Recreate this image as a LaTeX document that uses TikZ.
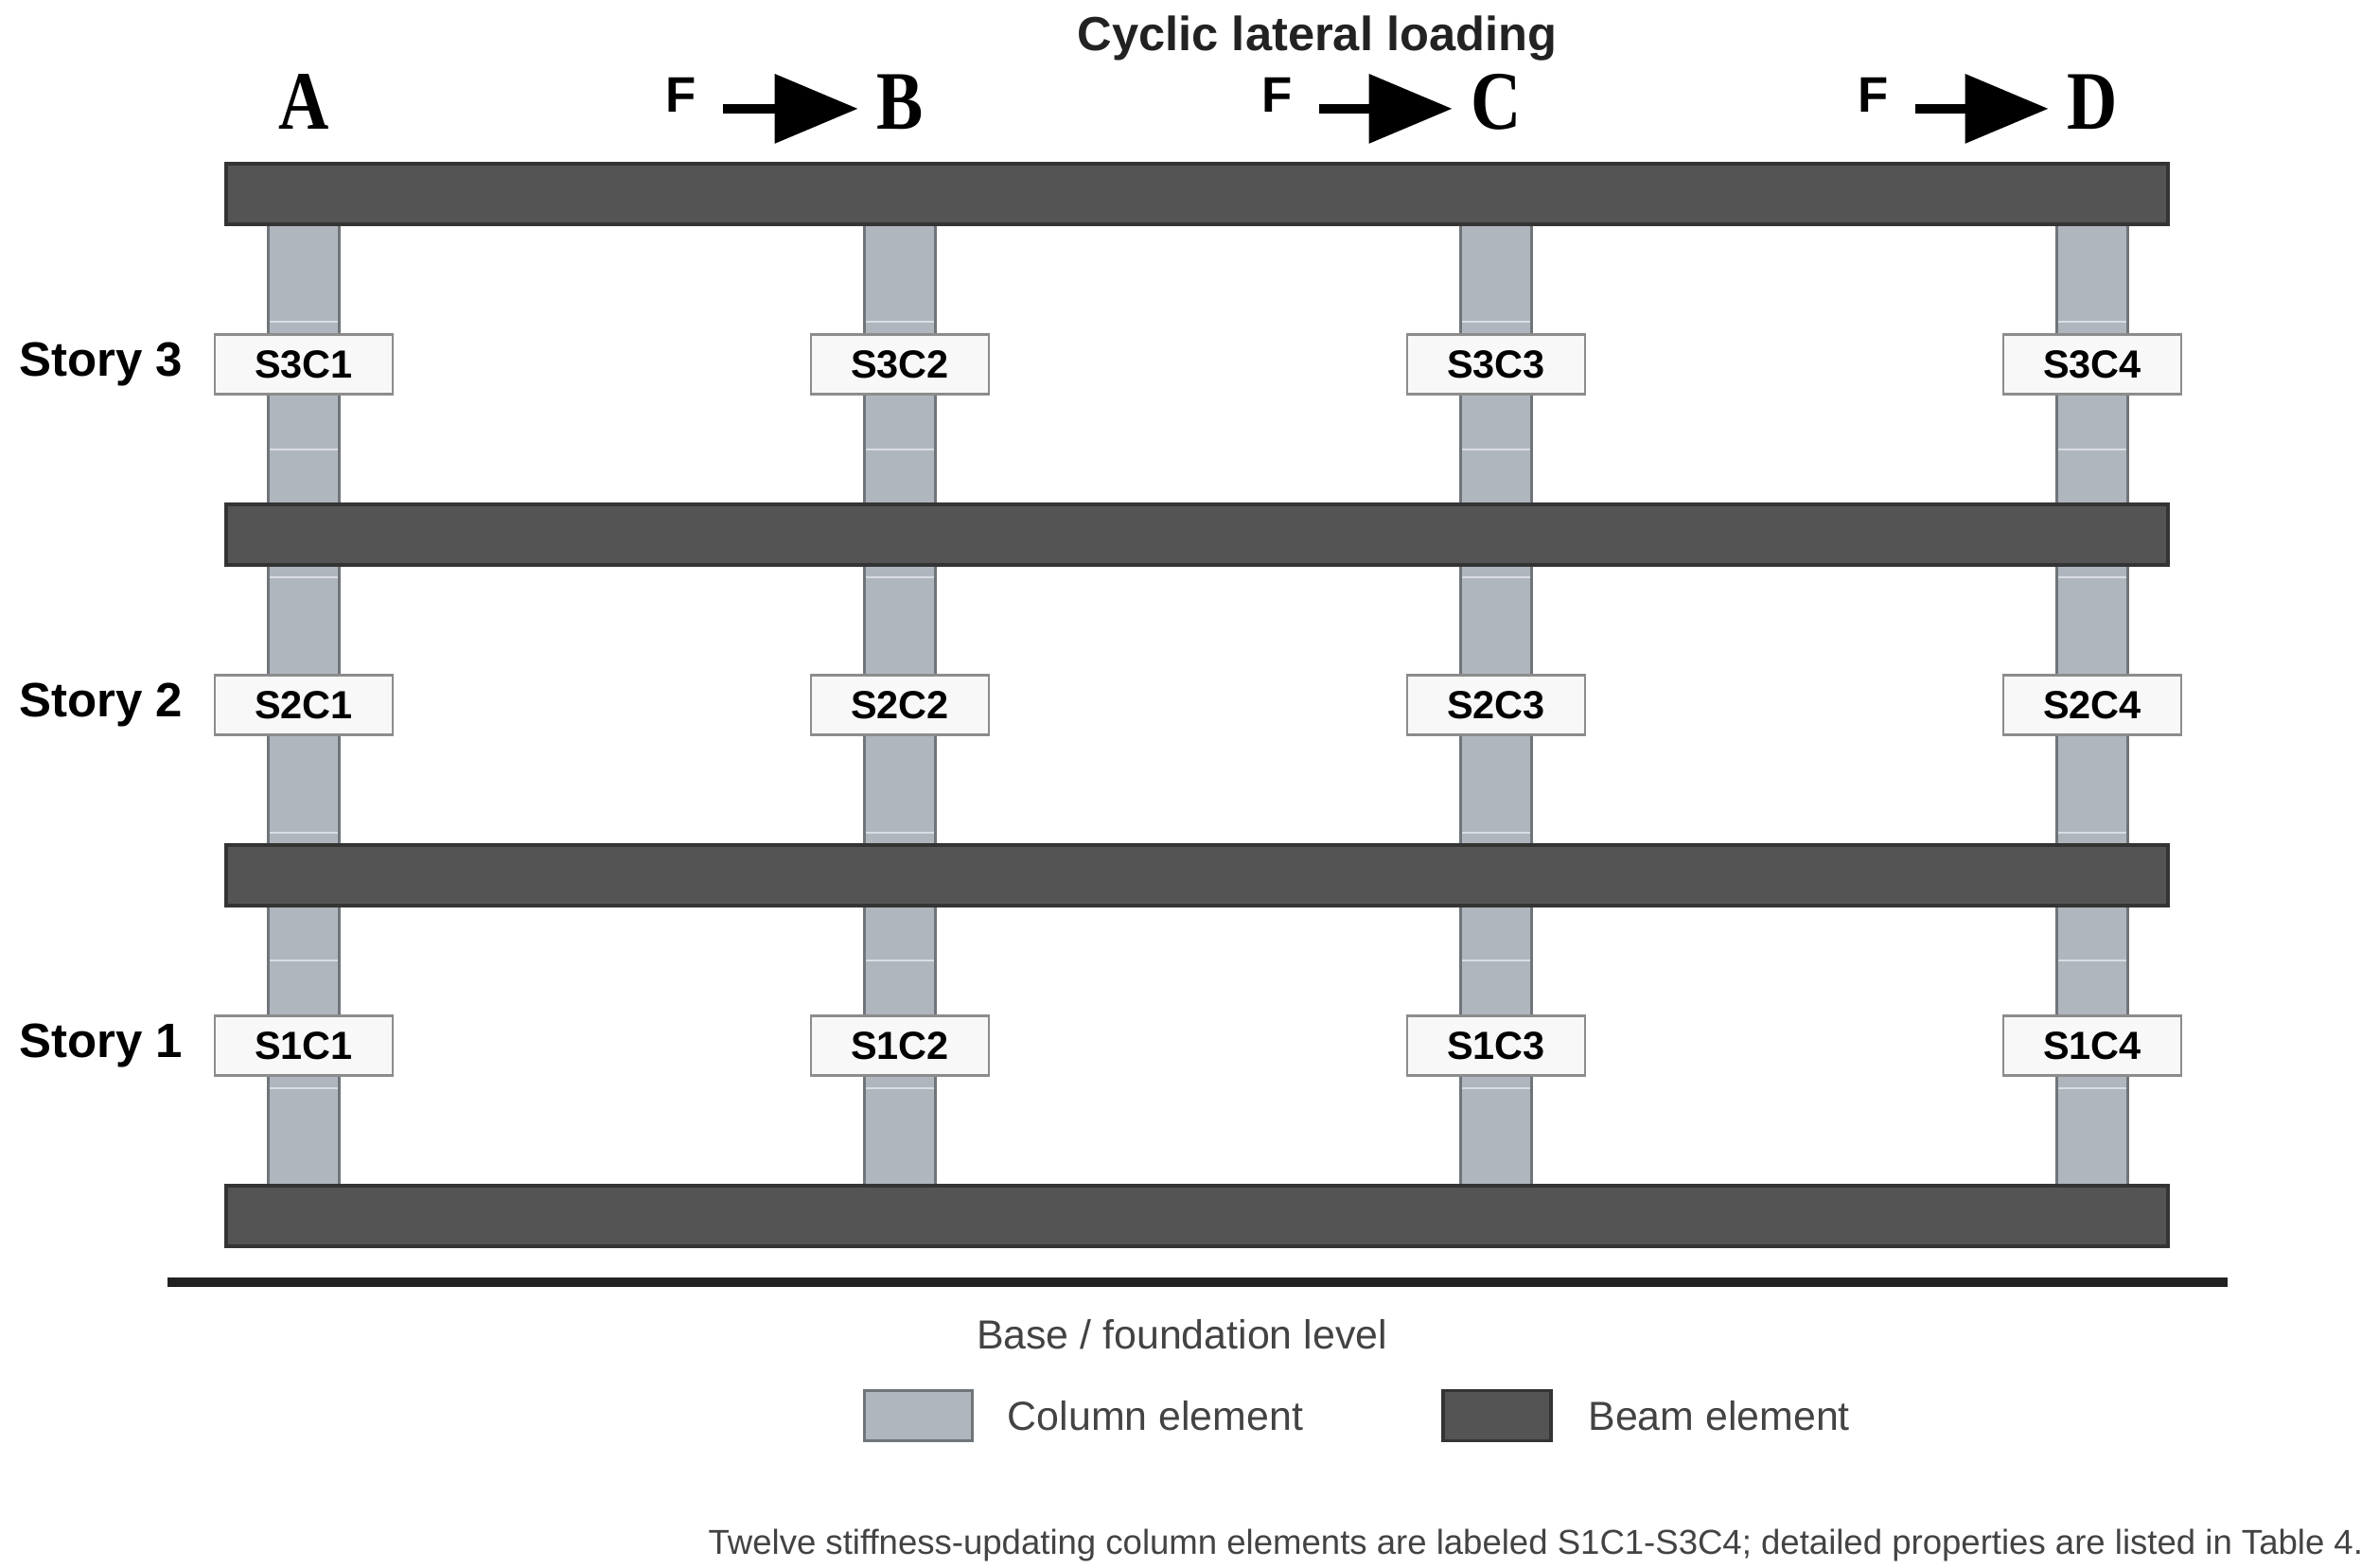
\documentclass[tikz,border=0pt]{standalone}
\usepackage{fontspec}
\setmainfont{Liberation Sans}
\newfontfamily\letterfont{Liberation Serif}
\usetikzlibrary{matrix,positioning,arrows.meta}
\definecolor{beamfill}{RGB}{84,84,84}
\definecolor{beamline}{RGB}{52,52,52}
\definecolor{colfill}{RGB}{176,182,190}
\definecolor{colline}{RGB}{112,117,122}
\definecolor{colsplit}{RGB}{218,221,226}
\definecolor{tagfill}{RGB}{248,248,248}
\definecolor{tagline}{RGB}{140,140,140}
\definecolor{ink}{RGB}{34,34,34}
\newcommand{\colname}[1]{\scalebox{0.84}[1]{#1}}

\begin{document}
\begin{tikzpicture}[x=1cm,y=-1cm,
label distance=3.3mm,
beam/.style={draw=beamline,fill=beamfill,line width=1pt},
colm/.style={draw=colline,fill=colfill,line width=0.8pt},
colcut/.style={draw=colsplit,line width=0.7pt},
tagbox/.style={draw=tagline,fill=tagfill,line width=0.7pt,minimum width=1.88cm,
minimum height=0.63cm,inner sep=0pt,outer sep=0pt,anchor=center,
font=\fontsize{11.8}{14}\selectfont\bfseries},
storylab/.style={inner sep=0pt,font=\fontsize{14.5}{17}\selectfont\bfseries},
collet/.style={inner sep=0pt,font=\letterfont\fontsize{25}{30}\selectfont\bfseries},
loadf/.style={inner sep=0pt,font=\fontsize{15}{18}\selectfont\bfseries},
load/.style={line width=1mm,-{Triangle[length=8.8mm,width=7.1mm]},
shorten <=2.7mm,shorten >=1.9mm},
plain/.style={inner sep=0pt,text=ink!85,font=\fontsize{12.2}{14.5}\selectfont},
legsw/.style={minimum width=1.14cm,minimum height=0.53cm,inner sep=0pt,line width=1pt}]
\useasboundingbox (0,0) rectangle (25.14,16.56);

\foreach \x in {3.21,9.51,15.81,22.11}{
\draw[colm] (\x-0.375,2.05) rectangle (\x+0.375,12.86);
\foreach \y in {3.40,4.75,6.10,7.45,8.80,10.15,11.50}
\draw[colcut] (\x-0.36,\y) -- (\x+0.36,\y);
}
\foreach \y in {1.73,5.33,8.93,12.53}
\draw[beam] (2.39,\y) rectangle (22.91,\y+0.64);

\matrix (M) [matrix of nodes,
column sep=4.395cm,
row sep=2.945cm,
nodes={tagbox}] at (12.66,7.45) {
S3C1 & S3C2 & S3C3 & S3C4 \\
S2C1 & S2C2 & S2C3 & S2C4 \\
S1C1 & S1C2 & S1C3 & S1C4 \\
};
\foreach \i/\s in {1/3,2/2,3/1}{
\path (M-\i-1) [late options={label={[storylab]left:Story \s}}];
}

\node[font=\fontsize{14.4}{17}\selectfont\bfseries,text=ink,inner sep=0pt,anchor=base] (title) at (13.92,0.535) {Cyclic lateral loading};
\foreach \l/\x in {A/3.21,B/9.51,C/15.81,D/22.11}
\node[collet,anchor=base] (l\l) at (\x,1.36) {\colname{\l}};
\foreach \l in {B,C,D}{
\node[loadf,anchor=base] (f\l) at ([xshift=-2.31cm,yshift=1.8mm]l\l.base) {F};
\coordinate (a\l) at ([yshift=-1.5mm]f\l.east);
\draw[load] (a\l) -- (a\l -| l\l.west);
}

\draw[ink,line width=1mm] (1.77,13.55) -- (23.54,13.55);
\node[plain,anchor=base] (base) at (12.49,14.25) {Base / foundation level};
\node[legsw,draw=colline,fill=colfill] (swcol) at (9.705,14.96) {};
\node[plain,right=3.5mm of swcol] (txcol) {Column element};
\node[legsw,draw=beamline,fill=beamfill] (swbeam) at (15.82,14.96) {};
\node[plain,right=3.7mm of swbeam] (txbeam) {Beam element};
\node[plain,anchor=base east,font=\fontsize{10.4}{12.5}\selectfont] (note) at (24.98,16.42) {Twelve stiffness-updating column elements are labeled S1C1-S3C4; detailed properties are listed in Table 4.};
\end{tikzpicture}
\end{document}
